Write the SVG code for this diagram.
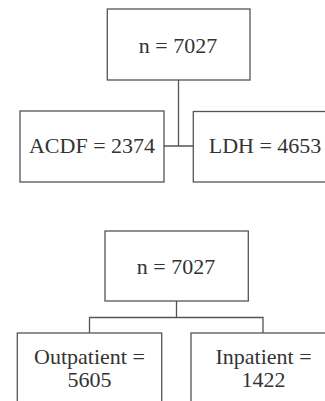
<svg xmlns="http://www.w3.org/2000/svg" width="325" height="401" viewBox="0 0 325 401">
<style>
.box{fill:#fff;stroke:#555;stroke-width:1.3}
.ln{fill:none;stroke:#555;stroke-width:1.3}
.t{fill:#333;text-anchor:middle}
</style>
<rect width="325" height="401" fill="#fff"/>
<g id="connectors">
<path class="ln" d="M178.5 80V146M164 146H193.3"/>
<path class="ln" d="M176.5 301V317.5M89.5 333V317.5H263V333"/>
</g>
<g font-family="Liberation Serif, Times New Roman, serif" font-size="22">
<g id="n1"><rect class="box" x="107.3" y="9" width="142.7" height="71"/><text class="t" x="178" y="53">n = 7027</text></g>
<g id="acdf"><rect class="box" x="20" y="111" width="144" height="71"/><text class="t" x="92" y="153">ACDF = 2374</text></g>
<g id="ldh"><rect class="box" x="193.3" y="111.5" width="144" height="70.5"/><text class="t" x="265" y="153">LDH = 4653</text></g>
<g id="n2"><rect class="box" x="105" y="231" width="143.3" height="70"/><text class="t" x="176" y="274">n = 7027</text></g>
<g id="out"><rect class="box" x="17.3" y="333" width="144.4" height="80"/><text class="t" x="89.5" y="364">Outpatient =</text><text class="t" x="89.5" y="387">5605</text></g>
<g id="inp"><rect class="box" x="191" y="333" width="144" height="80"/><text class="t" x="263.5" y="364">Inpatient =</text><text class="t" x="263.5" y="387">1422</text></g>
</g>
</svg>
